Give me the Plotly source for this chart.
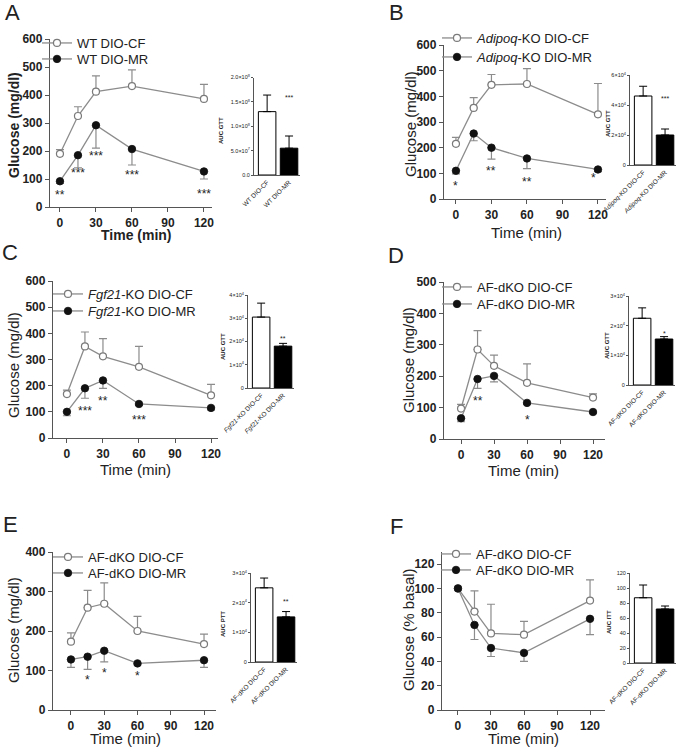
import plotly.graph_objects as go

# ---------------- data ----------------
time_min = [0, 15, 30, 60, 120]
x_ticks = [0, 30, 60, 90, 120]

A_cf = [190, 325, 412, 432, 386]
A_cf_sem = [15, 33, 56, 58, 52]
A_mr = [92, 185, 292, 207, 127]
A_mr_sem = [8, 45, 82, 57, 27]
A_names = ["WT DIO-CF", "WT DIO-MR"]
A_stars_t = [0, 15, 30, 60, 120]
A_stars_v = [55, 132, 192, 124, 57]
A_stars_txt = ["**", "***", "***", "***", "***"]
A_auc = [1.3e8, 0.55e8]
A_auc_sem = [0.34e8, 0.25e8]
A_auc_ticks = [0, 0.5e8, 1.0e8, 1.5e8, 2.0e8]
A_auc_ticktext = ["0.0", "5.0×10<sup>7</sup>", "1.0×10<sup>8</sup>", "1.5×10<sup>8</sup>", "2.0×10<sup>8</sup>"]
A_auc_star = ["", "***"]
A_auc_star_v = [0, 1.58e8]

B_cf = [215, 355, 445, 448, 330]
B_cf_sem = [25, 40, 40, 60, 120]
B_mr = [110, 255, 200, 158, 115]
B_mr_sem = [12, 28, 45, 40, 8]
B_names = ["<i>Adipoq</i>-KO DIO-CF", "<i>Adipoq</i>-KO DIO-MR"]
B_stars_t = [0, 30, 60, 116]
B_stars_v = [62, 120, 78, 93]
B_stars_txt = ["*", "**", "**", "*"]
B_auc = [4.6e4, 2.0e4]
B_auc_sem = [0.65e4, 0.4e4]
B_auc_ticks = [0, 2e4, 4e4, 6e4]
B_auc_ticktext = ["0", "2×10<sup>4</sup>", "4×10<sup>4</sup>", "6×10<sup>4</sup>"]
B_auc_star = ["", "***"]
B_auc_star_v = [0, 4.45e4]

C_cf = [168, 350, 312, 272, 163]
C_cf_sem = [15, 55, 68, 78, 42]
C_mr = [100, 190, 220, 130, 115]
C_mr_sem = [15, 38, 30, 5, 8]
C_names = ["<i>Fgf21</i>-KO DIO-CF", "<i>Fgf21</i>-KO DIO-MR"]
C_stars_t = [15, 30, 60]
C_stars_v = [113, 151, 81]
C_stars_txt = ["***", "**", "***"]
C_auc = [3.05e4, 1.8e4]
C_auc_sem = [0.6e4, 0.12e4]
C_auc_ticks = [0, 1e4, 2e4, 3e4, 4e4]
C_auc_ticktext = ["0", "1×10<sup>4</sup>", "2×10<sup>4</sup>", "3×10<sup>4</sup>", "4×10<sup>4</sup>"]
C_auc_star = ["", "**"]
C_auc_star_v = [0, 2.15e4]

D_cf = [97, 285, 233, 179, 132]
D_cf_sem = [13, 60, 34, 60, 12]
D_mr = [66, 191, 201, 115, 86]
D_mr_sem = [11, 30, 19, 4, 4]
D_names = ["AF-dKO DIO-CF", "AF-dKO DIO-MR"]
D_stars_t = [15, 60]
D_stars_v = [129, 71]
D_stars_txt = ["**", "*"]
D_auc = [2.25e4, 1.55e4]
D_auc_sem = [0.35e4, 0.08e4]
D_auc_ticks = [0, 1e4, 2e4, 3e4]
D_auc_ticktext = ["0", "1×10<sup>4</sup>", "2×10<sup>4</sup>", "3×10<sup>4</sup>"]
D_auc_star = ["", "*"]
D_auc_star_v = [0, 1.75e4]

E_cf = [173, 259, 269, 200, 167]
E_cf_sem = [22, 44, 53, 37, 25]
E_mr = [128, 135, 150, 118, 126]
E_mr_sem = [20, 32, 28, 4, 18]
E_names = ["AF-dKO DIO-CF", "AF-dKO DIO-MR"]
E_stars_t = [15, 30, 60]
E_stars_v = [83, 101, 94]
E_stars_txt = ["*", "*", "*"]
E_auc = [2.5e4, 1.52e4]
E_auc_sem = [0.33e4, 0.18e4]
E_auc_ticks = [0, 1e4, 2e4, 3e4]
E_auc_ticktext = ["0", "1×10<sup>4</sup>", "2×10<sup>4</sup>", "3×10<sup>4</sup>"]
E_auc_star = ["", "**"]
E_auc_star_v = [0, 2.05e4]

F_cf = [100, 81, 63, 62, 90]
F_cf_sem = [0, 17, 24, 11, 17]
F_mr = [100, 70, 51, 47, 75]
F_mr_sem = [0, 12, 7, 7, 13]
F_names = ["AF-dKO DIO-CF", "AF-dKO DIO-MR"]
F_stars_t = []
F_stars_v = []
F_stars_txt = []
F_auc = [87, 72]
F_auc_sem = [17, 4]
F_auc_ticks = [0, 20, 40, 60, 80, 100, 120]
F_auc_ticktext = ["0", "20", "40", "60", "80", "100", "120"]
F_auc_star = ["", ""]
F_auc_star_v = [0, 0]

yt_600 = [0, 100, 200, 300, 400, 500, 600]
yt_500 = [0, 100, 200, 300, 400, 500]
yt_400 = [0, 100, 200, 300, 400]
yt_pct = [0, 20, 40, 60, 80, 100, 120]

# ---------------- layout helpers ----------------
W, H = 700, 750
def fx(p):
    return p / W
def fy(p):
    return 1 - p / H

FONT = "Liberation Sans, Arial, Helvetica, sans-serif"
LINE = "#8c8c8c"
AXC = "#555555"
TXT = "#222222"

# leg = (text start x, row1 center y, row2 center y)
panels = [
    dict(letter="A", L=(12, 13), cf=A_cf, cfe=A_cf_sem, mr=A_mr, mre=A_mr_sem, names=A_names,
         st=(A_stars_t, A_stars_v, A_stars_txt), auc=A_auc, auce=A_auc_sem, at=A_auc_ticks, att=A_auc_ticktext,
         ast=A_auc_star, asv=A_auc_star_v, alab="AUC GTT", yt=yt_600, yr=[0, 600], ylab="Glucose (mg/dl)",
         xd=(50, 212), xr=[-8.3, 126.7], yd=(39, 207), ytitle=(14, 125), xtitle=(136, 235), bold=True,
         leg=(78, 43, 59), ixd=(254, 300), iyd=(77.5, 175), iyr=[0, 2e8], ilab=(221, 131)),
    dict(letter="B", L=(396, 13), cf=B_cf, cfe=B_cf_sem, mr=B_mr, mre=B_mr_sem, names=B_names,
         st=(B_stars_t, B_stars_v, B_stars_txt), auc=B_auc, auce=B_auc_sem, at=B_auc_ticks, att=B_auc_ticktext,
         ast=B_auc_star, asv=B_auc_star_v, alab="AUC GTT", yt=yt_600, yr=[0, 600], ylab="Glucose (mg/dl)",
         xd=(444, 606), xr=[-10.1, 126.8], yd=(45, 199), ytitle=(410, 124), xtitle=(526, 232), bold=False,
         leg=(478, 38, 57), ixd=(630, 676), iyd=(75, 165), iyr=[0, 6e4], ilab=(608, 124)),
    dict(letter="C", L=(10, 253), cf=C_cf, cfe=C_cf_sem, mr=C_mr, mre=C_mr_sem, names=C_names,
         st=(C_stars_t, C_stars_v, C_stars_txt), auc=C_auc, auce=C_auc_sem, at=C_auc_ticks, att=C_auc_ticktext,
         ast=C_auc_star, asv=C_auc_star_v, alab="AUC GTT", yt=yt_600, yr=[0, 600], ylab="Glucose (mg/dl)",
         xd=(53, 218), xr=[-11.6, 125.8], yd=(281, 438), ytitle=(13, 365), xtitle=(135, 469), bold=False,
         leg=(89, 294, 311), ixd=(248, 294), iyd=(295, 388), iyr=[0, 4e4], ilab=(223, 347)),
    dict(letter="D", L=(396, 255), cf=D_cf, cfe=D_cf_sem, mr=D_mr, mre=D_mr_sem, names=D_names,
         st=(D_stars_t, D_stars_v, D_stars_txt), auc=D_auc, auce=D_auc_sem, at=D_auc_ticks, att=D_auc_ticktext,
         ast=D_auc_star, asv=D_auc_star_v, alab="AUC GTT", yt=yt_500, yr=[0, 500], ylab="Glucose (mg/dl)",
         xd=(444, 605), xr=[-15.5, 130.9], yd=(282, 439), ytitle=(408, 360), xtitle=(523, 470), bold=False,
         leg=(478, 287, 304), ixd=(629, 675), iyd=(296, 385), iyr=[0, 3e4], ilab=(607, 346)),
    dict(letter="E", L=(10, 524), cf=E_cf, cfe=E_cf_sem, mr=E_mr, mre=E_mr_sem, names=E_names,
         st=(E_stars_t, E_stars_v, E_stars_txt), auc=E_auc, auce=E_auc_sem, at=E_auc_ticks, att=E_auc_ticktext,
         ast=E_auc_star, asv=E_auc_star_v, alab="AUC PTT", yt=yt_400, yr=[0, 400], ylab="Glucose (mg/dl)",
         xd=(53, 216), xr=[-16.2, 130.8], yd=(552, 710), ytitle=(13, 630), xtitle=(125, 738), bold=False,
         leg=(89, 557, 573), ixd=(251, 297), iyd=(573, 662), iyr=[0, 3e4], ilab=(223, 624)),
    dict(letter="F", L=(396, 526), cf=F_cf, cfe=F_cf_sem, mr=F_mr, mre=F_mr_sem, names=F_names,
         st=(F_stars_t, F_stars_v, F_stars_txt), auc=F_auc, auce=F_auc_sem, at=F_auc_ticks, att=F_auc_ticktext,
         ast=F_auc_star, asv=F_auc_star_v, alab="AUC ITT", yt=yt_pct, yr=[0, 130], ylab="Glucose (% basal)",
         xd=(442, 605), xr=[-14.5, 133.6], yd=(552, 710), ytitle=(408, 630), xtitle=(523, 738), bold=False,
         leg=(477, 554, 570), ixd=(630, 676), iyd=(573, 663), iyr=[0, 120], ilab=(609, 622)),
]

fig = go.Figure()
layout = dict(width=W, height=H, margin=dict(l=0, r=0, t=0, b=0, pad=0, autoexpand=False),
              paper_bgcolor="white", plot_bgcolor="rgba(0,0,0,0)",
              font=dict(family=FONT, color=TXT), showlegend=True)
annotations = []
TEXT_OFFSET = 41  # legend text start relative to legend box left

for i, p in enumerate(panels):
    n = i + 1
    m = i + 7
    xs = "" if n == 1 else str(n)
    leg1 = "legend" if n == 1 else f"legend{2 * n - 1}"
    leg2 = f"legend{2 * n}"
    # main traces
    fig.add_trace(go.Scatter(
        x=time_min, y=p["cf"], name=p["names"][0], mode="lines+markers",
        xaxis=f"x{xs}", yaxis=f"y{xs}", legend=leg1, cliponaxis=False,
        line=dict(color=LINE, width=1.3),
        marker=dict(symbol="circle", size=7, color="white", line=dict(color="#7a7a7a", width=1.2)),
        error_y=dict(type="data", symmetric=False, array=p["cfe"], arrayminus=[0] * 5,
                     color=LINE, thickness=1.2, width=4)))
    fig.add_trace(go.Scatter(
        x=time_min, y=p["mr"], name=p["names"][1], mode="lines+markers",
        xaxis=f"x{xs}", yaxis=f"y{xs}", legend=leg2, cliponaxis=False,
        line=dict(color=LINE, width=1.3),
        marker=dict(symbol="circle", size=7.5, color="#111111", line=dict(color="#111111", width=0.8)),
        error_y=dict(type="data", symmetric=False, array=[0] * 5, arrayminus=p["mre"],
                     color=LINE, thickness=1.2, width=4)))
    # inset bars
    fig.add_trace(go.Bar(
        x=p["names"], y=p["auc"], xaxis=f"x{m}", yaxis=f"y{m}", showlegend=False, width=0.8,
        marker=dict(color=["white", "black"], line=dict(color="black", width=1)),
        error_y=dict(type="data", symmetric=False, array=p["auce"], arrayminus=[0, 0],
                     color="black", thickness=1, width=4)))

    tickfont = dict(family=FONT, size=12, color=TXT, weight="bold")
    layout[f"xaxis{xs}"] = dict(domain=[fx(p["xd"][0]), fx(p["xd"][1])], range=p["xr"], anchor=f"y{xs}",
                                showline=True, linecolor=AXC, linewidth=1.3, ticks="outside", ticklen=4,
                                tickwidth=1.3, tickcolor=AXC, tickvals=x_ticks, tickfont=tickfont,
                                showgrid=False, zeroline=False, automargin=False)
    layout[f"yaxis{xs}"] = dict(domain=[fy(p["yd"][1]), fy(p["yd"][0])], range=p["yr"], anchor=f"x{xs}",
                                showline=True, linecolor=AXC, linewidth=1.3, ticks="outside", ticklen=4,
                                tickwidth=1.3, tickcolor=AXC, tickvals=p["yt"], tickfont=tickfont,
                                showgrid=False, zeroline=False, automargin=False)
    layout[f"xaxis{m}"] = dict(domain=[fx(p["ixd"][0]), fx(p["ixd"][1])], range=[-0.6, 1.5], anchor=f"y{m}",
                               type="category", showline=True, linecolor=AXC, linewidth=1, ticks="",
                               tickangle=-45, tickfont=dict(family=FONT, size=6.5, color=TXT),
                               showgrid=False, zeroline=False, automargin=False)
    layout[f"yaxis{m}"] = dict(domain=[fy(p["iyd"][1]), fy(p["iyd"][0])], range=p["iyr"], anchor=f"x{m}",
                               showline=True, linecolor=AXC, linewidth=1, ticks="outside", ticklen=2,
                               tickwidth=1, tickcolor=AXC, tickvals=p["at"], ticktext=p["att"],
                               tickfont=dict(family=FONT, size=5.5, color=TXT),
                               showgrid=False, zeroline=False, automargin=False)
    for lg, yy in ((leg1, p["leg"][1]), (leg2, p["leg"][2])):
        layout[lg] = dict(x=fx(p["leg"][0] - TEXT_OFFSET), y=fy(yy), xanchor="left", yanchor="middle",
                          xref="container", yref="container",
                          bgcolor="rgba(0,0,0,0)", borderwidth=0, itemwidth=30, tracegroupgap=0,
                          font=dict(family=FONT, size=13, color=TXT))

    if p["bold"]:
        tfont = dict(family=FONT, size=14, color=TXT, weight="bold")
    else:
        tfont = dict(family=FONT, size=15, color=TXT, weight="normal")
    annotations.append(dict(x=fx(p["ytitle"][0]), y=fy(p["ytitle"][1]), xref="paper", yref="paper",
                            text=p["ylab"], textangle=-90, showarrow=False, font=tfont,
                            xanchor="center", yanchor="middle"))
    annotations.append(dict(x=fx(p["xtitle"][0]), y=fy(p["xtitle"][1]), xref="paper", yref="paper",
                            text="Time (min)", showarrow=False, font=tfont,
                            xanchor="center", yanchor="middle"))
    annotations.append(dict(x=fx(p["L"][0]), y=fy(p["L"][1]), xref="paper", yref="paper",
                            text=p["letter"], showarrow=False, font=dict(family=FONT, size=22, color=TXT),
                            xanchor="center", yanchor="middle"))
    annotations.append(dict(x=fx(p["ilab"][0]), y=fy(p["ilab"][1]), xref="paper", yref="paper",
                            text=p["alab"], textangle=-90, showarrow=False,
                            font=dict(family=FONT, size=6, color=TXT, weight="bold"),
                            xanchor="center", yanchor="middle"))
    for t, v, s in zip(*p["st"]):
        annotations.append(dict(x=t, y=v, xref=f"x{xs}", yref=f"y{xs}", text=s, showarrow=False,
                                font=dict(family=FONT, size=12, color=TXT), xanchor="center",
                                yanchor="middle", yshift=-3))
    for c, s, v in zip(p["names"], p["ast"], p["asv"]):
        if s:
            annotations.append(dict(x=c, y=v, xref=f"x{m}", yref=f"y{m}", text=s, showarrow=False,
                                    font=dict(family=FONT, size=7, color=TXT), xanchor="center",
                                    yanchor="middle"))

layout["annotations"] = annotations
fig.update_layout(**layout)
fig.write_html("out.html", config={"displayModeBar": False},
               post_script="document.body.style.margin='0px';")
